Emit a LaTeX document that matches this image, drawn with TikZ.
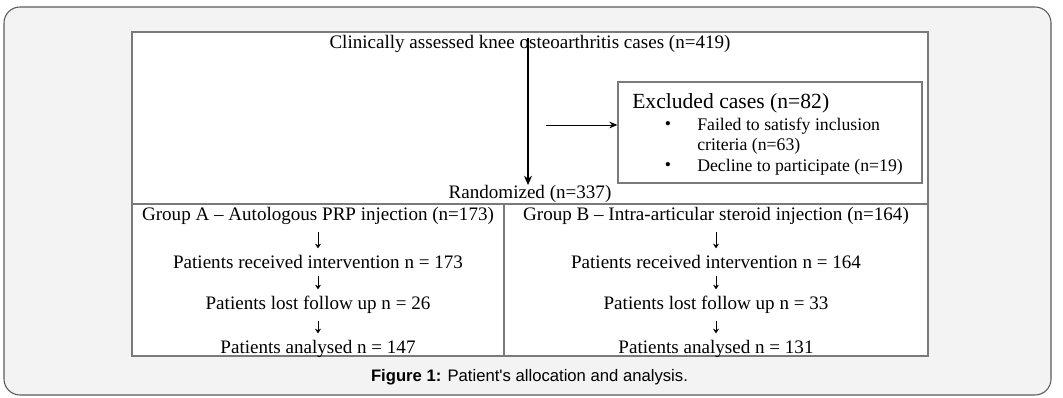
\documentclass[tikz,border=0pt]{standalone}
\usepackage{fontspec}
\setmainfont{Liberation Serif}
\newfontfamily\capfont{Liberation Sans}
\usetikzlibrary{arrows.meta}
\definecolor{panel}{HTML}{F3F3F3}
\definecolor{frame}{HTML}{5A5A5A}
\definecolor{boxline}{HTML}{7A7A7A}
\begin{document}
\begin{tikzpicture}[x=0.75pt,y=-0.75pt,
  txt/.style={inner sep=0pt, font=\fontsize{14.3}{17}\selectfont, text=black},
  sml/.style={inner sep=0pt, font=\fontsize{13.3}{16}\selectfont, text=black},
  big/.style={inner sep=0pt, font=\fontsize{16.2}{19}\selectfont, text=black},
  conn/.style={-{Stealth[length=7pt,width=6pt]}, line width=0.8pt},
  down/.style={-{Stealth[length=3.5pt,width=4.5pt]}, line width=0.6pt, shorten >=5pt, shorten <=5pt},
]
\useasboundingbox (0,0) rectangle (1063,398);
\draw[frame, fill=panel, rounded corners=12pt, line width=0.8pt] (4,7) rectangle (1051,395);
\draw[boxline, fill=white, line width=1pt] (132,32) rectangle (928,356);
\draw[boxline, line width=1pt] (132,204) -- (928,204);
\draw[boxline, line width=1pt] (504,204) -- (504,356);

\node[txt] (title) at (530,44) {Clinically assessed knee osteoarthritis cases (n=419)};
\node[txt] (rand) at (530,194) {Randomized (n=337)};
\coordinate (top) at (528,38);
\draw[conn] (top) -- (top |- rand.north);

\node[draw=boxline, line width=1pt, minimum width=228pt, minimum height=75.75pt, inner sep=0pt] (excl) at (770,132.5) {};
\node[big, anchor=west] (exclt) at (632,103) {Excluded cases (n=82)};
\node[sml] (b1) at (668,126) {\textbullet};
\node[sml] (b2) at (668,167) {\textbullet};
\node[sml, anchor=west] (e1) at (697,126) {Failed to satisfy inclusion};
\node[sml, anchor=west] (e2) at (697,146) {criteria (n=63)};
\node[sml, anchor=west] (e3) at (697,167) {Decline to participate (n=19)};
\coordinate (src) at (546,125);
\draw[-{Stealth[length=6pt,width=5pt]}, line width=0.7pt] (src) -- (src -| excl.west);

\node[txt] (gA) at (318,216) {Group A -- Autologous PRP injection (n=173)};
\node[txt] (rA) at (318,262) {Patients received intervention n = 173};
\node[txt] (lA) at (318,305) {Patients lost follow up n = 26};
\node[txt] (aA) at (318,349) {Patients analysed n = 147};
\draw[down] (gA) -- (rA);
\draw[down] (rA) -- (lA);
\draw[down] (lA) -- (aA);

\node[txt] (gB) at (716,216) {Group B -- Intra-articular steroid injection (n=164)};
\node[txt] (rB) at (716,262) {Patients received intervention n = 164};
\node[txt] (lB) at (716,305) {Patients lost follow up n = 33};
\node[txt] (aB) at (716,349) {Patients analysed n = 131};
\draw[down] (gB) -- (rB);
\draw[down] (rB) -- (lB);
\draw[down] (lB) -- (aB);

\node[inner sep=0pt, font=\capfont\fontsize{12.5}{14}\selectfont] (cap) at (529.5,377) {\textbf{Figure 1:} Patient's allocation and analysis.};
\end{tikzpicture}
\end{document}
